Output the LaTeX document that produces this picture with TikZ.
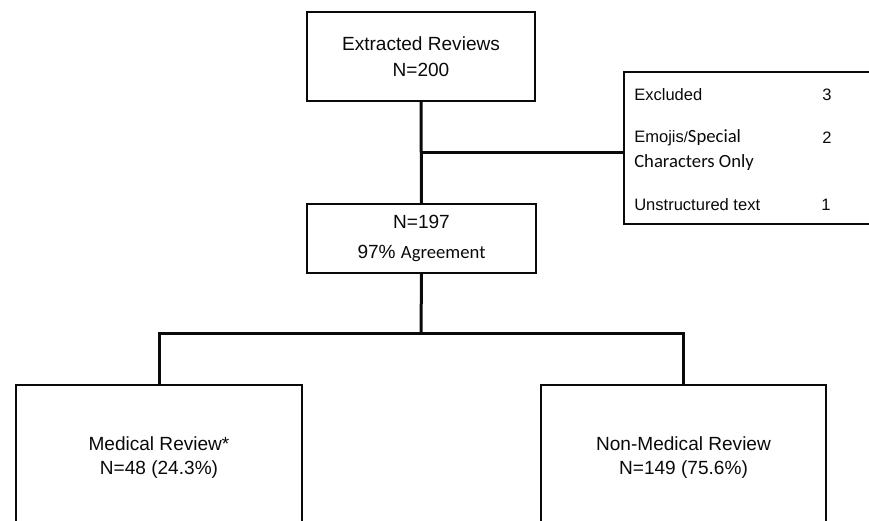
\documentclass[tikz,border=0pt]{standalone}
\usepackage{fontspec}
\setmainfont{Liberation Sans}
\newfontfamily\calibri{Carlito}
\usetikzlibrary{positioning}
\definecolor{ink}{RGB}{10,10,10}
\tikzset{
  box/.style={draw=ink,line width=1.5pt,inner sep=0pt,align=center,text=ink,
    font=\fontsize{14.3}{18.5}\selectfont},
  link/.style={draw=ink,line width=2.25pt},
  tag/.style={inner sep=0pt,text=ink,font=\fontsize{12.4}{15}\selectfont},
}

\begin{document}
\begin{tikzpicture}[x=0.75pt,y=-0.75pt]
  \useasboundingbox (0,0) rectangle (869,521);
  \clip (0,0) rectangle (869,521);
  % boxes
  \node[box,minimum width=171pt,minimum height=66.75pt] (extracted) at (421,56.5)
    {Extracted Reviews\\[1pt]N=200};
  \node[box,minimum width=171.75pt,minimum height=51.75pt] (agree) at (421.5,238.5)
    {N=197\\[3.5pt]97\% {\calibri\fontsize{14}{18}\selectfont Agreement}};
  \node[box,minimum width=207pt,minimum height=114pt] (excl) at (762,148) {};
  \node[box,minimum width=214.5pt,minimum height=108.75pt] (medical) at (159,457.5)
    {Medical Review*\\N=48 (24.3\%)};
  \node[box,minimum width=213.75pt,minimum height=108.75pt] (nonmedical) at (683.5,457.5)
    {Non-Medical Review\\N=149 (75.6\%)};
  % exclusion list
  \node[tag,anchor=west] (ex1) at (634,95) {Excluded};
  \node[tag] (n1) at (827,95) {3};
  \node[tag,anchor=west] (ex2) at (634,138)
    {Emojis{\fontsize{11}{15}\selectfont/}{\calibri\fontsize{14}{18}\selectfont Special}};
  \node[tag,anchor=west] (ex2b) at (634,163) {\calibri\fontsize{14}{18}\selectfont Characters Only};
  \node[tag] (n2) at (827,138) {2};
  \node[tag,anchor=west] (ex3) at (634,205) {Unstructured text};
  \node[tag] (n3) at (826,205) {1};
  % connectors
  \coordinate (split) at (421,152);
  \coordinate (fork) at (421,333);
  \draw[link] (extracted.south) -- (agree.north);
  \draw[link] (split) -- (split -| excl.west);
  \draw[link] (agree.south) -- (fork);
  \draw[link] (medical.north) |- (fork) -| (nonmedical.north);
\end{tikzpicture}
\end{document}
